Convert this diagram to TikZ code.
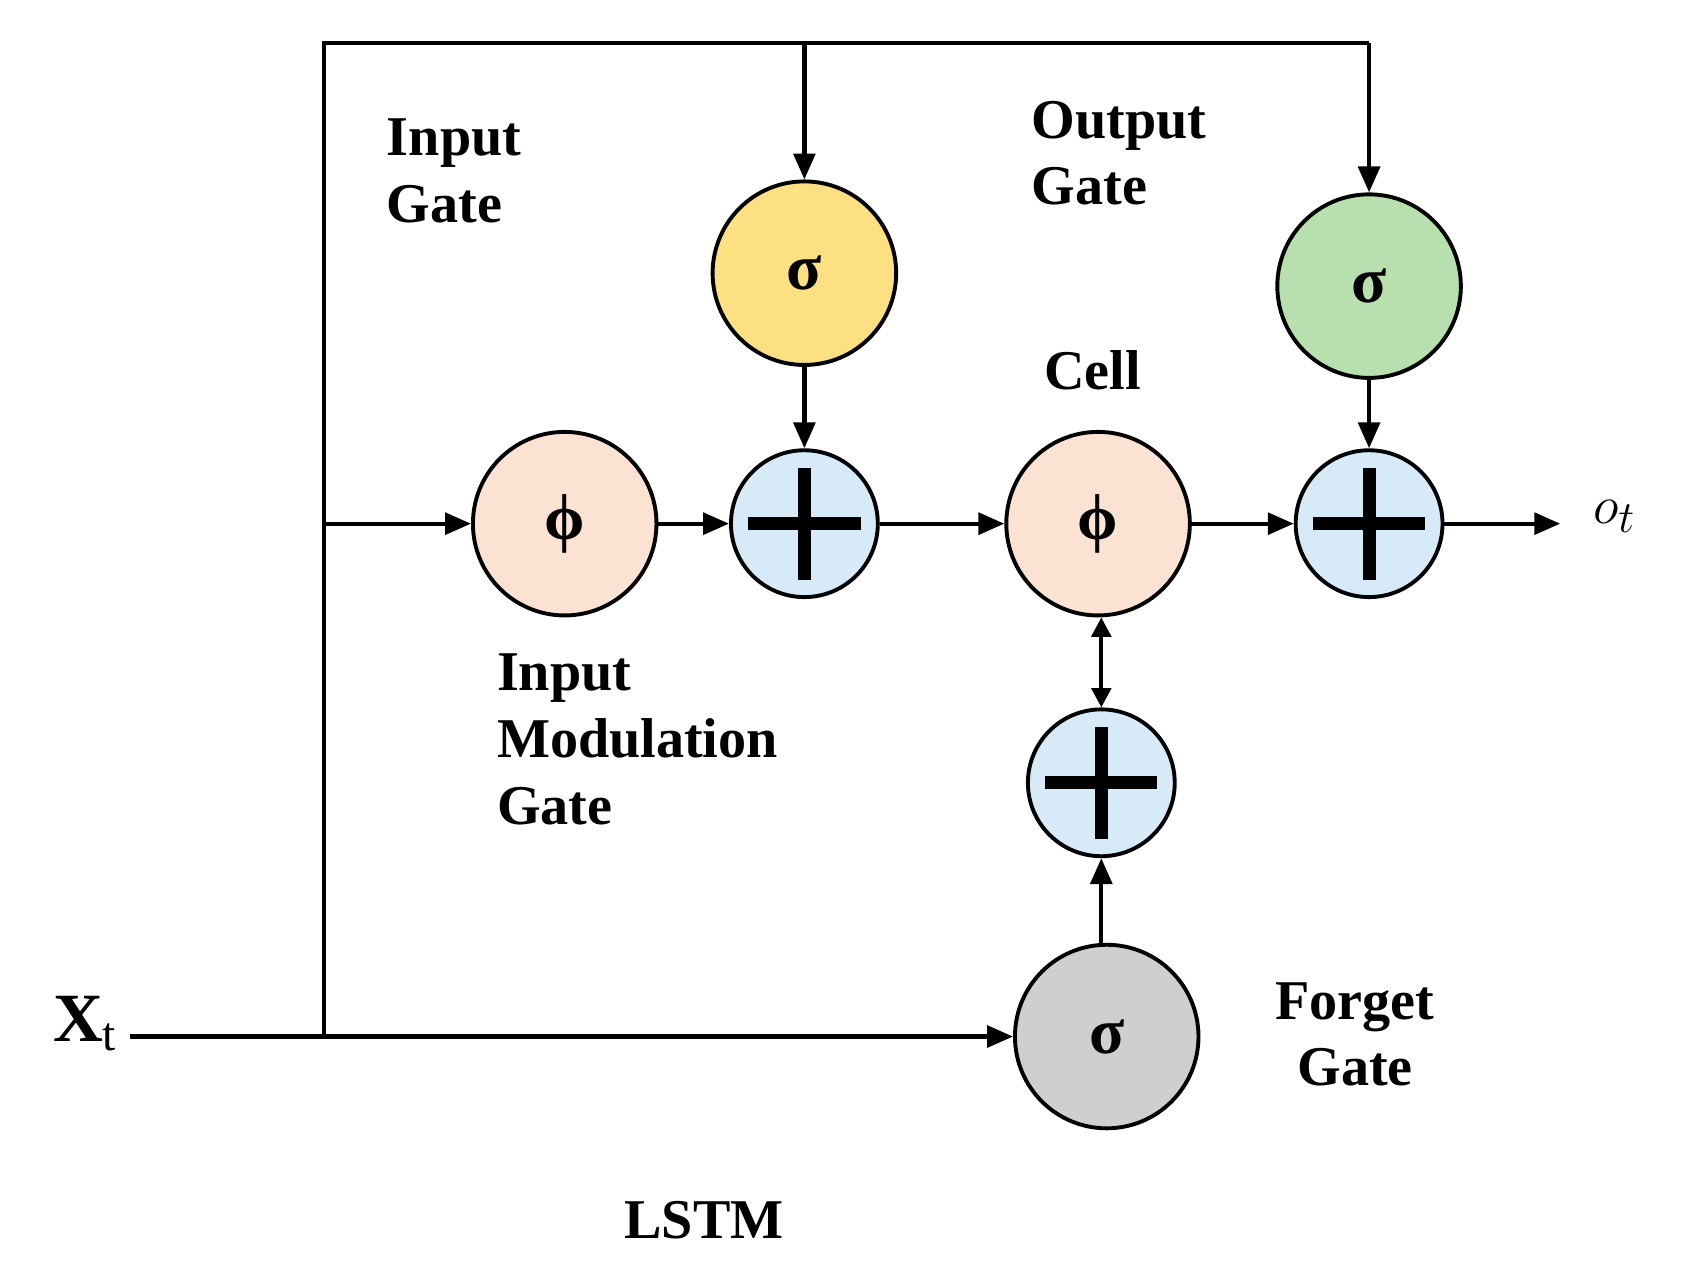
\documentclass[tikz,border=0pt]{standalone}
\usepackage{fontspec}
\setmainfont{Liberation Serif}
\usetikzlibrary{arrows.meta}
\definecolor{pb}{RGB}{214,234,248}
\definecolor{pk}{RGB}{252,226,210}
\definecolor{yl}{RGB}{253,224,130}
\definecolor{gr}{RGB}{184,224,174}
\definecolor{gy}{RGB}{208,206,206}
\begin{document}
\begin{tikzpicture}[x=0.5pt,y=-0.5pt,
  circ/.style={circle,draw,line width=1.8pt,minimum size=#1,inner sep=0pt,font=\fontsize{30}{34}\selectfont\bfseries},
  big/.style={circ=85pt},
  small/.style={circ=68pt,fill=pb},
  arr/.style={line width=2pt,-{Triangle[length=12pt,width=10pt]}},
  ln/.style={line width=2pt},
  lab/.style={font=\fontsize{26}{31}\selectfont\bfseries,align=left,inner sep=0pt}]
\useasboundingbox (0,0) rectangle (1568,1179);
\node[big,fill=yl] (ig) at (745,253) {σ};
\node[big,fill=gr] (og) at (1268,265) {σ};
\node[big,fill=pk] (p1) at (523,485) {ϕ};
\node[small] (a1) at (745,485) {};
\node[big,fill=pk] (p2) at (1017,485) {ϕ};
\node[small] (a2) at (1268,485) {};
\node[small] (a3) at (1020,725) {};
\node[big,fill=gy] (fg) at (1025,960) {σ};
\foreach \n in {a1,a2,a3}{
  \draw[line width=6pt] ([xshift=-26pt]\n.center) -- ([xshift=26pt]\n.center);
  \draw[line width=6pt] ([yshift=-26pt]\n.center) -- ([yshift=26pt]\n.center);}
\coordinate (tl) at (300,40); \coordinate (tm) at (745,40); \coordinate (tr) at (1268,40);
\coordinate (bl) at (300,960); \coordinate (ml) at (300,485);
\coordinate (xs) at (120,960); \coordinate (oe) at (1445,485);
\draw[ln] (bl) -- (tl) -- (tr);
\draw[arr] (tm) -- (ig);
\draw[arr] (tr) -- (og);
\draw[arr] (ml) -- (p1);
\draw[arr] (p1) -- (a1);
\draw[arr] (ig) -- (a1);
\draw[arr] (a1) -- (p2);
\draw[arr] (p2) -- (a2);
\draw[arr] (og) -- (a2);
\draw[arr] (a2) -- (oe);
\draw[line width=2pt,{Triangle[length=9pt,width=9pt]}-{Triangle[length=9pt,width=9pt]}] (p2.south -| a3) -- (a3);
\draw[arr] (fg.north -| a3) -- (a3);
\draw[arr] (xs) -- (fg);
\node[anchor=west,inner sep=0pt,font=\fontsize{30}{34}\selectfont] (ot) at (1475,478) {$o_t$};
\node[anchor=east,inner sep=0pt,font=\fontsize{32}{36}\selectfont\bfseries] (xt) at (108,948) {X\textmd{\fontsize{22}{26}\selectfont\raisebox{-4pt}{t}}};
\node[lab,anchor=north west] (l1) at (358,110) {Input\\Gate};
\node[lab,anchor=north west] (l2) at (955,93) {Output\\Gate};
\node[lab] (l3) at (1012,343) {Cell};
\node[lab,anchor=north west] (l4) at (460,605) {Input\\Modulation\\Gate};
\node[lab,align=center] (l5) at (1255,958) {Forget\\Gate};
\node[lab] (l6) at (652,1130) {LSTM};
\end{tikzpicture}
\end{document}
